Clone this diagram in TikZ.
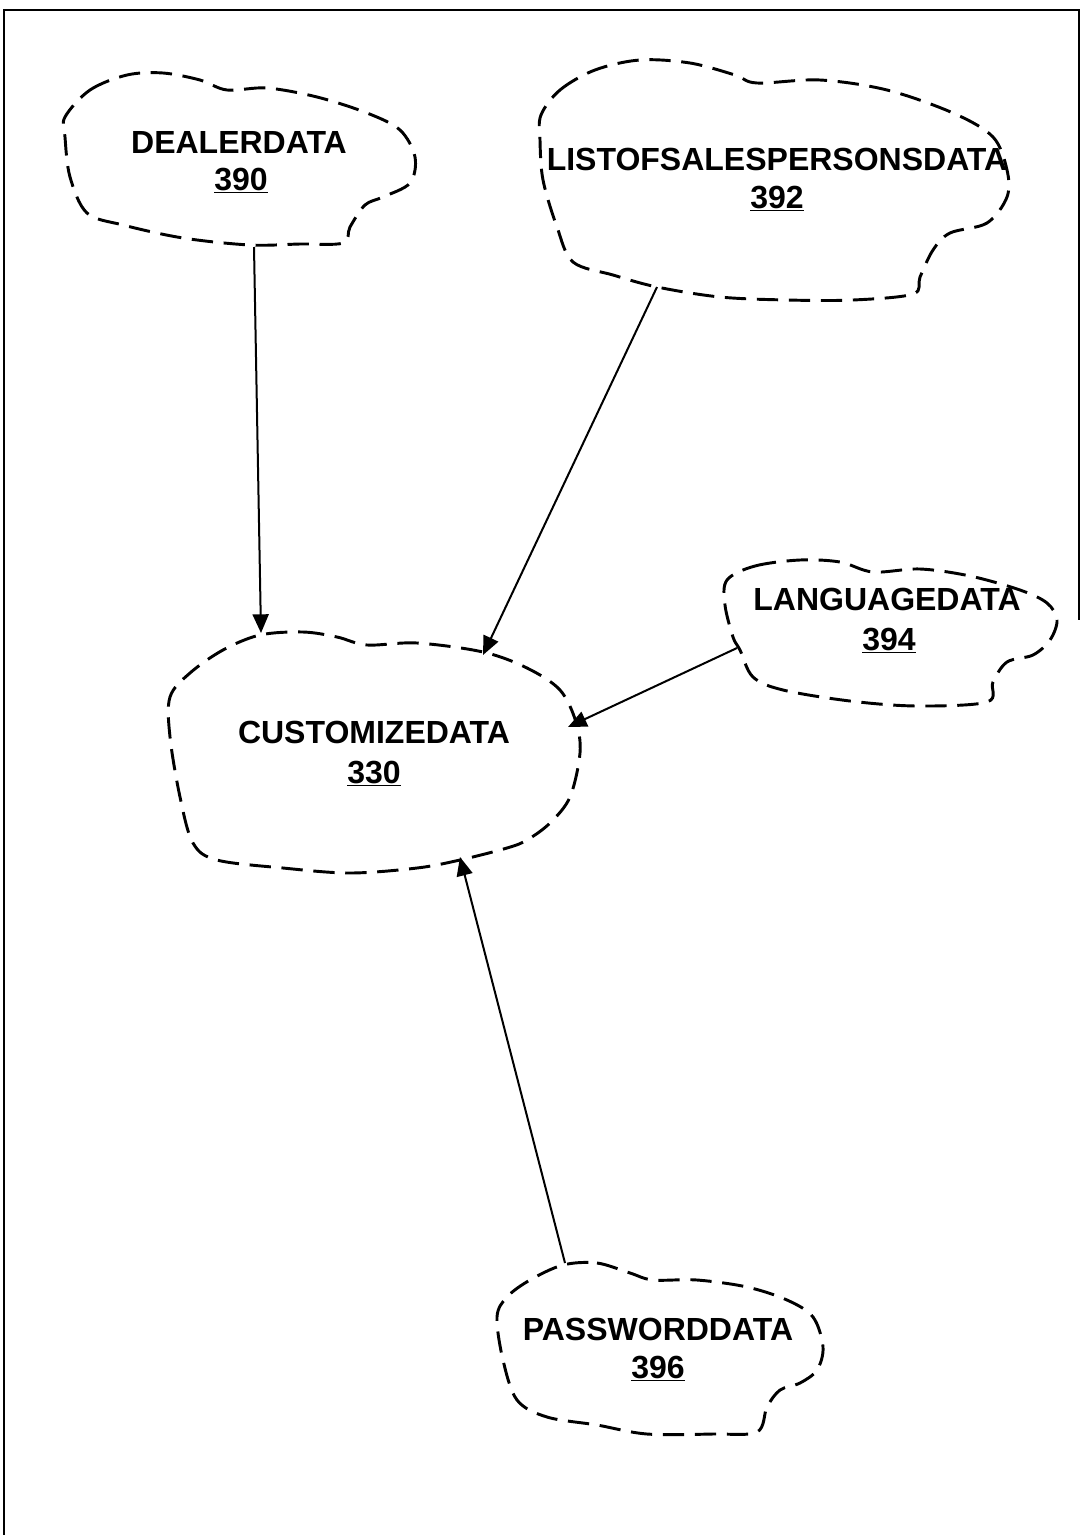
\documentclass[tikz,border=0pt]{standalone}
\usepackage{fontspec}
\setmainfont{Liberation Sans}
\usetikzlibrary{arrows.meta}
\begin{document}
\begin{tikzpicture}[x=0.75pt,y=-0.75pt,
  cloudline/.style={line width=2.2pt,dash pattern=on 16pt off 8pt},
  arr/.style={line width=1.5pt,-{Triangle[length=14pt,width=12pt]}},
  lbl/.style={font=\bfseries\fontsize{24}{28}\selectfont,anchor=base,inner sep=0pt},
  border/.style={line width=2pt}]
\useasboundingbox (0,0) rectangle (1081,1535);
\draw[border] (4,1535) -- (4,10) -- (1079,10) -- (1079,620);

% cloud 390
\draw[cloudline] plot[smooth cycle,tension=0.55] coordinates {
 (65,117) (90,90) (127,75) (163,73) (200,80) (227,90) (267,88) (317,97)
 (367,113) (400,130) (415,157) (410,183) (383,197) (365,205) (350,227)
 (343,243) (300,244) (250,245) (183,238) (123,225) (87,213) (70,177) (65,137)};
\node[lbl] (t390) at (239,153) {DEALERDATA};
\node[lbl] (n390) at (241,190) {\underline{390}};

% cloud 392
\draw[cloudline] plot[smooth cycle,tension=0.55] coordinates {
 (541,115) (560,90) (595,70) (640,60) (690,63) (735,75) (757,83)
 (820,80) (887,90) (953,113) (993,137) (1007,170) (1007,197) (987,223)
 (950,233) (933,250) (920,277) (913,294) (853,300) (787,300) (720,297)
 (657,287) (613,275) (573,262) (557,227) (543,180) (540,140)};
\node[lbl] (t392) at (777,170) {LISTOFSALESPERSONSDATA};
\node[lbl] (n392) at (777,208) {\underline{392}};

% cloud 330
\draw[cloudline] plot[smooth cycle,tension=0.55] coordinates {
 (260,635) (303,632) (337,637) (367,645) (417,643) (483,652) (527,668)
 (560,690) (576,722) (580,753) (570,797) (550,823) (527,840) (507,848)
 (460,860) (417,868) (350,873) (283,868) (217,860) (193,843) (180,797)
 (170,737) (170,697) (190,673) (223,650)};
\node[lbl] (t330) at (374,743) {CUSTOMIZEDATA};
\node[lbl] (n330) at (374,783) {\underline{330}};

% cloud 394
\draw[cloudline] plot[smooth cycle,tension=0.55] coordinates {
 (727,580) (755,566) (800,560) (840,562) (873,572) (920,569) (970,576)
 (1020,590) (1047,603) (1057,620) (1050,640) (1033,655) (1007,662)
 (993,682) (987,702) (917,706) (850,701) (783,690) (753,677) (740,650)
 (733,637) (725,605)};
\node[lbl] (t394) at (887,610) {LANGUAGEDATA};
\node[lbl] (n394) at (889,650) {\underline{394}};

% cloud 396
\draw[cloudline] plot[smooth cycle,tension=0.55] coordinates {
 (563,1265) (597,1263) (630,1273) (653,1280) (697,1280) (747,1287)
 (787,1300) (813,1317) (823,1347) (817,1370) (800,1383) (780,1390)
 (767,1407) (757,1432) (713,1434) (647,1434) (597,1425) (547,1417)
 (517,1400) (503,1360) (497,1317) (507,1297) (530,1280)};
\node[lbl] (t396) at (658,1340) {PASSWORDDATA};
\node[lbl] (n396) at (658,1378) {\underline{396}};

% attachment points
\coordinate (a390) at (254,247);
\coordinate (b390) at (261,633);
\coordinate (a392) at (657,287);
\coordinate (b392) at (483,655);
\coordinate (a394) at (737,648);
\coordinate (b394) at (568,727);
\coordinate (a396) at (565,1263);
\coordinate (b396) at (460,857);

\draw[arr] (a390) -- (b390);
\draw[arr] (a392) -- (b392);
\draw[arr] (a394) -- (b394);
\draw[arr] (a396) -- (b396);
\end{tikzpicture}
\end{document}
